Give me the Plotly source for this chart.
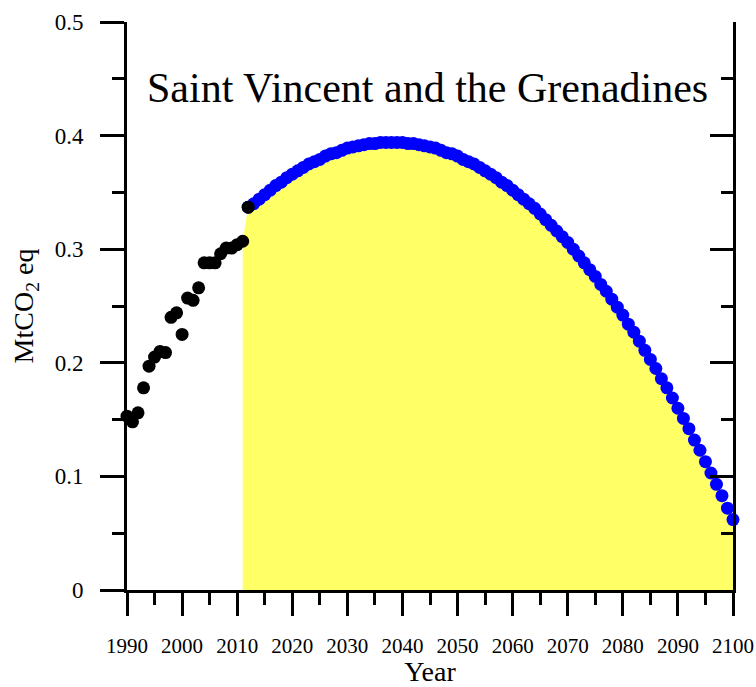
import plotly.graph_objects as go

# Historical emissions (black points)
hist_years = list(range(1990, 2013))
hist_values = [0.153, 0.148, 0.156, 0.178, 0.197, 0.205, 0.210, 0.209, 0.240, 0.244,
               0.225, 0.257, 0.255, 0.266, 0.288, 0.288, 0.288, 0.296, 0.301, 0.301,
               0.304, 0.307, 0.337]

# Projected emissions (blue points)
proj_years = list(range(2012, 2101))
proj_values = [0.337, 0.340, 0.344, 0.348, 0.352, 0.356, 0.359, 0.363, 0.366, 0.369,
               0.372, 0.375, 0.377, 0.379, 0.382, 0.384, 0.385, 0.387, 0.389, 0.390,
               0.391, 0.392, 0.393, 0.393, 0.394, 0.394, 0.394, 0.394, 0.394, 0.393,
               0.393, 0.392, 0.391, 0.390, 0.389, 0.387, 0.385, 0.384, 0.382, 0.379,
               0.377, 0.375, 0.372, 0.369, 0.366, 0.363, 0.359, 0.356, 0.352, 0.348,
               0.344, 0.340, 0.336, 0.331, 0.326, 0.321, 0.316, 0.311, 0.306, 0.300,
               0.294, 0.288, 0.282, 0.276, 0.269, 0.263, 0.256, 0.249, 0.242, 0.234,
               0.227, 0.219, 0.211, 0.203, 0.195, 0.186, 0.178, 0.169, 0.160, 0.151,
               0.142, 0.132, 0.123, 0.113, 0.103, 0.093, 0.083, 0.072, 0.062]

x_ticks = list(range(1990, 2101, 10))
y_ticks = [0, 0.1, 0.2, 0.3, 0.4, 0.5]
y_tick_labels = ["0", "0.1", "0.2", "0.3", "0.4", "0.5"]

title_text = "Saint Vincent and the Grenadines"
FONT = "Liberation Serif, Times New Roman, serif"

fig = go.Figure()

# yellow area under projection, starting at last historical year
fill_x = [hist_years[-2]] + proj_years
fill_y = [hist_values[-2]] + proj_values
fig.add_trace(go.Scatter(x=fill_x, y=fill_y, mode="lines", fill="tozeroy",
                         fillcolor="#FFFF66", line=dict(width=0, color="#FFFF66"),
                         hoverinfo="skip", showlegend=False, xaxis="x", yaxis="y"))

fig.add_trace(go.Scatter(x=proj_years, y=proj_values, mode="markers",
                         marker=dict(size=13, color="#0000FF", line=dict(width=0)),
                         cliponaxis=False, showlegend=False, xaxis="x", yaxis="y2"))

fig.add_trace(go.Scatter(x=hist_years, y=hist_values, mode="markers",
                         marker=dict(size=13, color="#000000", line=dict(width=0)),
                         cliponaxis=False, showlegend=False, xaxis="x", yaxis="y2"))

axis_common = dict(showgrid=False, zeroline=False, showline=True, linecolor="black",
                   linewidth=3, tickcolor="black", tickwidth=3, automargin=False)

fig.update_layout(
    width=756, height=687,
    margin=dict(l=127, r=23, t=22, b=97, autoexpand=False),
    paper_bgcolor="white", plot_bgcolor="white",
    font=dict(family=FONT, color="black"),
    xaxis=dict(range=[1990, 2100], tickvals=x_ticks, ticks="outside", ticklen=23,
               ticklabelstandoff=12,
               minor=dict(dtick=5, tick0=1990, ticks="outside", ticklen=12,
                          tickwidth=3, tickcolor="black", showgrid=False),
               tickfont=dict(size=21, family=FONT),
               title=dict(text="Year", font=dict(size=28, family=FONT), standoff=25),
               **axis_common),
    yaxis=dict(range=[0, 0.5], tickvals=y_ticks, ticktext=y_tick_labels,
               ticks="outside", ticklen=24, ticklabelstandoff=12,
               minor=dict(dtick=0.05, tick0=0, ticks="outside", ticklen=12,
                          tickwidth=3, tickcolor="black", showgrid=False),
               tickfont=dict(size=23, family=FONT),
               title=dict(text="MtCO<sub>2</sub> eq", font=dict(size=28, family=FONT),
                          standoff=13),
               **axis_common),
    yaxis2=dict(range=[0, 0.5], overlaying="y", side="right", tickvals=y_ticks,
                showticklabels=False, ticks="inside", ticklen=23,
                minor=dict(dtick=0.05, tick0=0, ticks="inside", ticklen=12,
                           tickwidth=3, tickcolor="black", showgrid=False),
                **axis_common),
    annotations=[dict(text=title_text, x=0.496, y=0.884, xref="paper", yref="paper",
                      xanchor="center", yanchor="middle", showarrow=False,
                      font=dict(size=42, family=FONT, color="black"))],
)

fig.write_html("out.html",
               config={"displayModeBar": False},
               post_script="document.body.style.margin='0';"
                           "document.body.style.overflow='hidden';")
